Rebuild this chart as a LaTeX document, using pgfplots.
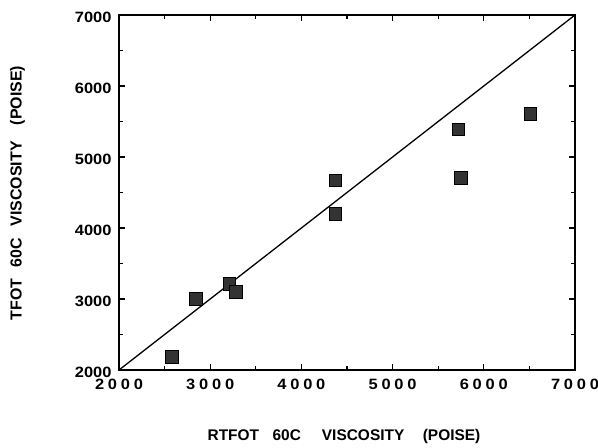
\documentclass[border=0pt]{standalone}
\usepackage{fontspec}
\setmainfont{Liberation Sans}
\newfontfamily\tickfont[FakeStretch=1.1]{Liberation Sans}
\usepackage{pgfplots}
\pgfplotsset{compat=1.18}
\newcommand{\xs}{\hspace{3.8bp}}
\begin{document}
\begin{tikzpicture}
\useasboundingbox (-119bp,-78bp) rectangle (479bp,370bp);
\begin{axis}[
  scale only axis, width=456bp, height=355bp,
  xmin=2000, xmax=7000, ymin=2000, ymax=7000,
  xtick={2000,3000,4000,5000,6000,7000},
  ytick={2000,3000,4000,5000,6000,7000},
  xticklabels={2\xs0\xs0\xs0,3\xs0\xs0\xs0,4\xs0\xs0\xs0,5\xs0\xs0\xs0,6\xs0\xs0\xs0,7\xs0\xs0\xs0},
  yticklabels={2000,3000,4000,5000,6000,7000},
  minor tick num=1,
  tick align=inside,
  tick pos=both,
  major tick length=6bp, minor tick length=4bp,
  axis line style={line width=1.6bp},
  every tick/.style={line width=1.2bp, black},
  tick label style={font=\tickfont\fontsize{15}{17}\selectfont\bfseries},
  yticklabel style={xshift=-4bp, yshift=-2.5bp},
  xticklabel style={yshift=-6bp},
  xlabel style={font=\fontsize{15.5}{18}\selectfont\bfseries, at={(axis description cs:0.4934,-0.1873)}, anchor=center},
  ylabel style={font=\fontsize{16}{18}\selectfont\bfseries, at={(axis description cs:-0.2226,0.4986)}, anchor=center},
  xlabel={RTFOT\hspace{13.5bp}60C\hspace{21bp}VISCOSITY\hspace{18.5bp}(POISE)},
  ylabel={TFOT\hspace{11bp}60C\hspace{12bp}VISCOSITY\hspace{16bp}(POISE)},
]
\addplot[black, line width=1.3bp, no marks] coordinates {(2000,2000) (7000,7000)};
\addplot[only marks, mark=square*, mark size=6.3bp, mark options={fill=black!80, draw=black, line width=0.6bp}] coordinates {
  (2580,2190)
  (2845,3000)
  (3210,3210)
  (3280,3100)
  (4370,4670)
  (4370,4200)
  (5720,5390)
  (5750,4710)
  (6510,5610)
};
\end{axis}
\end{tikzpicture}
\end{document}
